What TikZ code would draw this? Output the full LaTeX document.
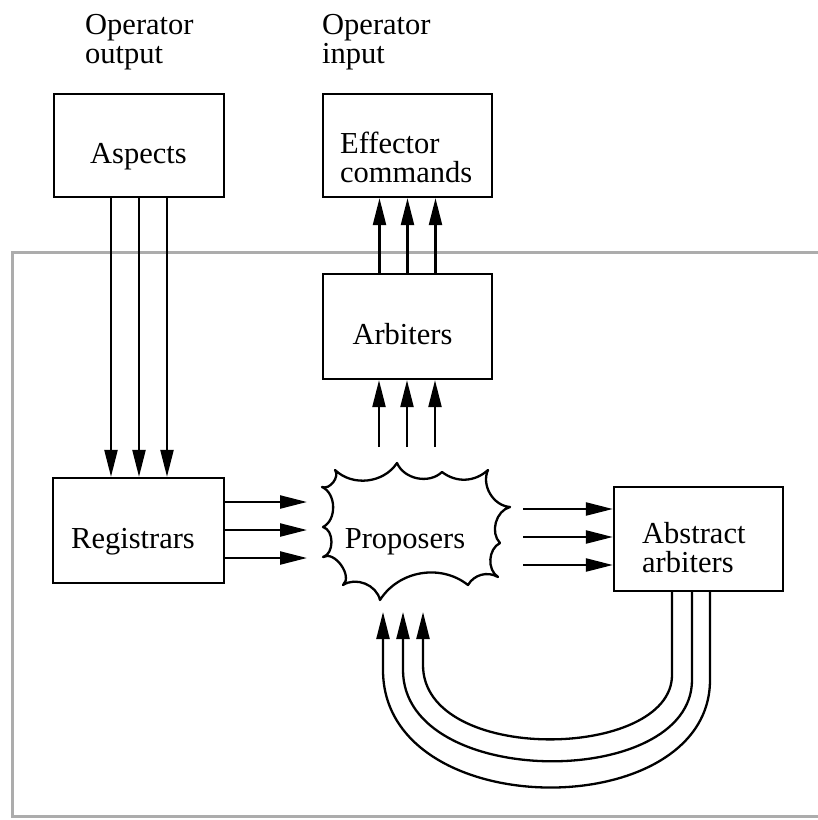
\documentclass[tikz,border=0pt]{standalone}
\usepackage{fontspec}
\setmainfont{Liberation Serif}
\usetikzlibrary{arrows.meta}
\begin{document}
\begin{tikzpicture}[x=1pt,y=-1pt,
  box/.style={draw, line width=2.3pt, inner sep=0pt},
  lbl/.style={font=\fontsize{30.5}{29}\selectfont, inner sep=0pt},
  arr/.style={line width=2.3pt, -{Triangle[length=27pt,width=13pt]}},
  cloudline/.style={line width=2.3pt, line join=round},
  frameline/.style={draw=gray!65, line width=3pt}]
\useasboundingbox (0,0) rectangle (818,820);
% outer frame
\draw[frameline] (818,252) -- (12,252) -- (12,816) -- (818,816);
% boxes
\node[box, minimum width=170pt, minimum height=103pt] (asp) at (139,145.5) {};
\node[box, minimum width=169pt, minimum height=103pt] (eff) at (407.5,145.5) {};
\node[box, minimum width=169pt, minimum height=105pt] (arb) at (407.5,326.5) {};
\node[box, minimum width=171pt, minimum height=105pt] (reg) at (138.5,530.5) {};
\node[box, minimum width=169pt, minimum height=104pt] (abs) at (698.5,539) {};
% cloud
\draw[cloudline] (322,487) to[bend right=75] (335,470) to[bend right=50] (397,463)
  to[bend right=55] (442,472) to[bend right=40] (488,470) to[bend right=55] (510,507)
  to[bend right=60] (500,543) to[bend right=60] (498,577) to[bend right=45] (468,585)
  to[bend right=48] (380,600) to[bend right=55] (343,585) to[bend right=85] (323,557)
  to[bend right=75] (323,527) to[bend right=65] cycle;
\coordinate (cloudtop) at (407,447);
\coordinate (cloudW) at (307,530);
\coordinate (cloudE) at (523,537);
\coordinate (cloudS) at (403,612);
% texts
\node[lbl, anchor=base west, align=left] (opout) at (85,63) {Operator\\output};
\node[lbl, anchor=base west, align=left] (opin) at (322,63) {Operator\\input};
\node[lbl, anchor=base] (asp-t) at (138.5,163) {Aspects};
\node[lbl, anchor=base west, align=left] (eff-t) at (340,182) {Effector\\commands};
\node[lbl, anchor=base] (arb-t) at (402.5,344) {Arbiters};
\node[lbl, anchor=base] (reg-t) at (133,548) {Registrars};
\node[lbl, anchor=base west, align=left] (abs-t) at (642,572) {Abstract\\arbiters};
\node[lbl, anchor=base] (prop) at (405,548) {Proposers};
% aspects -> registrars
\foreach \d in {-28,0,28}
  \draw[arr] ([xshift=\d pt]asp.south) -- ([xshift=\d pt]asp.south |- reg.north);
% arbiters -> effector commands
\foreach \d in {-28,0,28}
  \draw[arr] ([xshift=\d pt]arb.north) -- ([xshift=\d pt]arb.north |- eff.south);
% proposers -> arbiters
\foreach \d in {-28,0,28}
  \draw[arr] ([xshift=\d pt]cloudtop) -- ([xshift=\d pt]cloudtop |- arb.south);
% registrars -> proposers
\foreach \d in {-28,0,28}
  \draw[arr] ([yshift=\d pt]reg.east |- cloudW) -- ([yshift=\d pt]cloudW);
% proposers -> abstract arbiters
\foreach \d in {-28,0,28}
  \draw[arr] ([yshift=\d pt]cloudE) -- ([yshift=\d pt]cloudE -| abs.west);
% abstract arbiters -> proposers (loops)
\draw[arr] (abs.south -| 672,0) -- (672,675) .. controls (672,760) and (423,765) .. (423,665) -- (cloudS -| 423,0);
\draw[arr] (abs.south -| 692,0) -- (692,680) .. controls (692,790) and (403,790) .. (403,670) -- (cloudS);
\draw[arr] (abs.south -| 710,0) -- (710,680) .. controls (710,825) and (383,825) .. (383,670) -- (cloudS -| 383,0);
\end{tikzpicture}
\end{document}
